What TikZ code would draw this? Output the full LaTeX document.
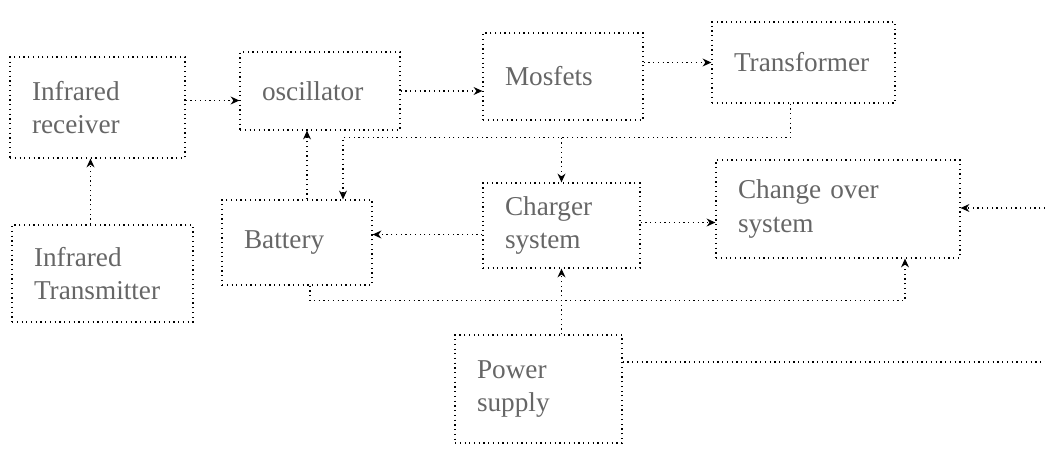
\documentclass[tikz,border=0pt]{standalone}
\usepackage{fontspec}
\setmainfont{Liberation Serif}
\usetikzlibrary{calc,arrows.meta}

\tikzset{
  blk/.style={draw, dotted, line width=0.7pt, align=left, inner xsep=0.44cm,
    font=\fontsize{15.5}{19}\selectfont, text=black!60},
  flow/.style={dotted, line width=0.7pt, -{Stealth[length=5pt,width=4.5pt]}},
  wire/.style={dotted, line width=0.7pt},
}

\begin{document}
\begin{tikzpicture}[x=0.02cm, y=-0.02cm]
  \useasboundingbox (0,0) rectangle (1045,450);

  % Draw the blocks
  \node[blk, text width=2.62cm, minimum height=2.02cm] (rx) at (97.5,107.5) {Infrared\\receiver};
  \node[blk, text width=2.32cm, minimum height=1.56cm] (osc) at (320,91) {oscillator};
  \node[blk, text width=2.32cm, minimum height=1.74cm] (mos) at (563,76.5) {Mosfets};
  \node[blk, text width=2.78cm, minimum height=1.62cm] (trans) at (803.5,62.5) {Transformer};
  \node[blk, text width=2.12cm, minimum height=1.7cm] (bat) at (297,242.5) {Battery};
  \node[blk, text width=2.26cm, minimum height=1.7cm] (chg) at (561.5,225.5) {Charger\\system};
  \node[blk, text width=4.0cm, minimum height=1.96cm] (cos) at (838,209) {Change over\\system};
  \node[blk, text width=2.74cm, minimum height=1.94cm] (tx) at (102.5,273.5) {Infrared\\Transmitter};
  \node[blk, text width=2.46cm, minimum height=2.16cm] (ps) at (538.5,389) {Power\\supply};

  % Draw the signal path
  \draw[flow] ($(tx.north)+(-12,0)$) -- ($(rx.south)+(-7,0)$);
  \draw[flow] ($(rx.east)+(0,-7)$) -- ($(rx.east -| osc.west)+(0,-7)$);
  \draw[flow] (osc.east) -- (osc.east -| mos.west);
  \draw[flow] (trans.west -| mos.east) -- (trans.west);
  \draw[flow] ($(bat.north)+(10,0)$) -- ($(osc.south)+(-13,0)$);

  % Draw the transformer output
  \draw[flow] ($(trans.south)+(-13,0)$) -- ++(0,34) coordinate (bus) -| ($(bat.north)+(46,0)$);
  \draw[flow] (bus -| chg.north) -- (chg.north);

  % Draw the charging lines
  \draw[flow] ($(chg.west)+(0,9)$) -- ($(chg.west -| bat.east)+(0,9)$);
  \draw[flow] ($(chg.east)+(0,-3)$) -- ($(chg.east -| cos.west)+(0,-3)$);
  \draw[flow] ($(bat.south)+(13,0)$) -- ++(0,15) -| ($(cos.south)+(67,0)$);
  \draw[flow] (ps.north -| chg.south) -- (chg.south);

  % Draw the lines to the mains
  \coordinate (mains) at (1045,208);
  \draw[flow] (mains) -- (mains -| cos.east);
  \coordinate (out) at (1045,362);
  \draw[wire] (ps.east |- out) -- (out);
\end{tikzpicture}
\end{document}
